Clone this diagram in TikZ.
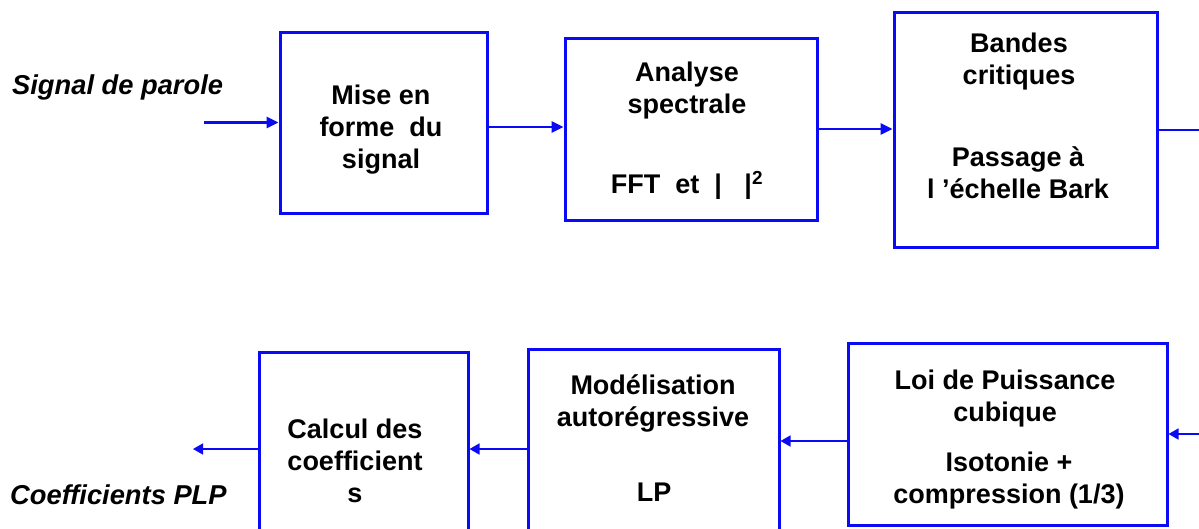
\documentclass[tikz,border=0pt]{standalone}
\usepackage{fontspec}
\setmainfont{Liberation Sans}
\usetikzlibrary{arrows.meta}
\definecolor{boxblue}{RGB}{10,10,245}
\tikzset{
  stage/.style={draw=boxblue, line width=3pt, inner sep=0pt},
  txt/.style={align=center, font=\fontsize{27}{32}\selectfont\bfseries, inner sep=0pt},
  lbl/.style={anchor=west, font=\fontsize{27.3}{32}\selectfont\bfseries\itshape, inner sep=0pt},
  arrtop/.style={draw=boxblue, line width=2.8pt, -{Triangle[length=12pt,width=11pt]}},
  arrbot/.style={draw=boxblue, line width=1.7pt, -{Triangle[length=10pt,width=11pt]}},
  plain/.style={draw=boxblue, line width=2pt}
}
\begin{document}
\begin{tikzpicture}[x=1pt,y=-1pt]
\useasboundingbox (0,0) rectangle (1199,528);
\begin{scope}
\clip (0,0) rectangle (1199,528);

% upper row of processing stages
\node[stage, minimum width=207pt, minimum height=181pt] (mise) at (383.5,122.5) {};
\node[stage, minimum width=252pt, minimum height=182pt] (analyse) at (691,129) {};
\node[stage, minimum width=263pt, minimum height=235pt] (bandes) at (1025.5,129.5) {};

% lower row of processing stages
\node[stage, minimum width=319pt, minimum height=182pt] (loi) at (1007.5,434) {};
\node[stage, minimum width=251pt, minimum height=184pt] (modl) at (653.5,441) {};
\node[stage, minimum width=209pt, minimum height=194pt] (calc) at (363.5,449) {};

% free ends of the connectors
\coordinate (sigin) at (204,122.5);
\coordinate (topout) at (1210,129.5);
\coordinate (botin) at (1210,434);
\coordinate (plpout) at (193,449);

% upper row connectors
\draw[arrtop] (sigin) -- (mise.west);
\draw[arrtop] ([yshift=-4.5pt]mise.east) -- ([yshift=-4.5pt]mise.east -| analyse.west);
\draw[arrtop] (analyse.east) -- (analyse.east -| bandes.west);
\draw[plain] (bandes.east) -- (topout);

% lower row connectors
\draw[arrbot] (botin) -- (loi.east);
\draw[arrbot] (loi.west |- modl.east) -- (modl.east);
\draw[arrbot] (modl.west |- calc.east) -- (calc.east);
\draw[arrbot] (calc.west) -- (plpout);
\end{scope}

% texts inside the stages
\node[txt] (tmise) at (381,129.7) {Mise en\\forme~~du\\signal};
\node[txt] (tana1) at (687,91) {Analyse\\spectrale};
\node[txt] (tana2) at (687,185) {FFT~~et~~|~~~|\textsuperscript{2}};
\node[txt] (tban1) at (1019,62) {Bandes\\critiques};
\node[txt] (tban2) at (1018,172.5) {Passage à\\l ’échelle Bark};
\node[txt] (tloi1) at (1005,398.5) {Loi de Puissance\\cubique};
\node[txt] (tloi2) at (1009,480.5) {Isotonie +\\compression (1/3)};
\node[txt] (tmod1) at (653,403.5) {Modélisation\\autorégressive};
\node[txt] (tmod2) at (654,492) {LP};
\node[txt] (tcalc) at (355,461) {Calcul des\\coefficient\\s};

% input and output labels
\node[lbl] (lin) at (12,87) {Signal de parole};
\node[lbl] (lout) at (10,495) {Coefficients PLP};
\end{tikzpicture}
\end{document}
